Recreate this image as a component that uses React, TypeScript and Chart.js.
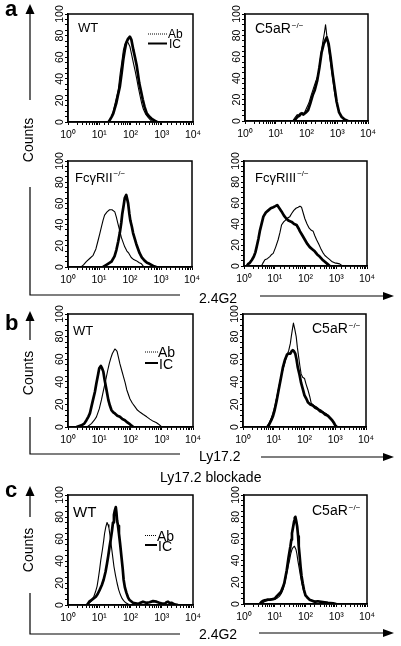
import React, { useEffect, useRef } from 'react';
import { Chart, registerables } from 'chart.js';

Chart.register(...registerables);

type Pt = [number, number]; // [log10 fluorescence intensity, counts]

const xTickLabels = ['10⁰', '10¹', '10²', '10³', '10⁴'];
const yTickLabels = [0, 20, 40, 60, 80, 100];

// ---- Panel a : 2.4G2 staining ----
const aWT_Ab: Pt[] = [[1.29,0],[1.38,4],[1.45,10],[1.53,20],[1.61,30],[1.67,45],[1.72,55],[1.77,66],[1.82,72],[1.88,75],[1.93,73],[1.98,70],[2.04,62],[2.09,55],[2.15,47],[2.2,40],[2.25,32],[2.3,25],[2.36,17],[2.41,12],[2.49,7],[2.57,4],[2.65,1.5],[2.73,0]];
const aWT_IC: Pt[] = [[1.3,0],[1.34,2],[1.4,5],[1.45,8],[1.55,18],[1.6,25],[1.66,33],[1.72,46],[1.77,58],[1.82,67],[1.86,73],[1.92,77],[1.98,79],[2.03,76],[2.09,67],[2.15,59],[2.2,52],[2.24,44],[2.28,36],[2.34,28],[2.39,21],[2.45,14],[2.52,8],[2.6,5],[2.68,3],[2.76,1.5],[2.85,0]];
const aC5_Ab: Pt[] = [[1.55,0],[1.62,3],[1.7,6],[1.78,4],[1.85,8],[1.92,7],[2.0,12],[2.08,17],[2.15,24],[2.22,30],[2.3,37],[2.38,43],[2.45,58],[2.52,72],[2.58,82],[2.62,90],[2.66,80],[2.72,68],[2.78,55],[2.85,40],[2.92,25],[3.0,14],[3.08,7],[3.16,3],[3.25,1],[3.35,0]];
const aC5_IC: Pt[] = [[1.6,0],[1.68,3],[1.75,5],[1.82,7],[1.9,6],[1.98,8],[2.05,10],[2.12,16],[2.2,24],[2.27,29],[2.35,38],[2.42,50],[2.49,64],[2.56,72],[2.62,76],[2.66,78],[2.72,72],[2.78,60],[2.85,44],[2.92,30],[2.98,18],[3.06,8],[3.14,4],[3.24,1.5],[3.35,0]];
const aR2_Ab: Pt[] = [[0.42,0],[0.5,2],[0.59,5],[0.7,8],[0.81,11],[0.9,17],[0.97,25],[1.03,32],[1.08,38],[1.13,44],[1.18,49],[1.26,52],[1.34,54],[1.42,54],[1.51,52],[1.56,47],[1.61,41],[1.67,34],[1.72,28],[1.78,23],[1.83,19],[1.9,15],[1.96,13],[2.04,9],[2.12,7],[2.2,6],[2.3,4],[2.37,3],[2.45,0]];
const aR2_IC: Pt[] = [[1.13,0],[1.24,2],[1.4,5],[1.5,10],[1.56,16],[1.62,24],[1.67,32],[1.72,42],[1.75,50],[1.8,59],[1.83,65],[1.88,68],[1.91,64],[1.94,60],[1.98,50],[2.01,44],[2.06,38],[2.1,32],[2.15,27],[2.2,22],[2.26,17],[2.31,13],[2.38,9],[2.47,6],[2.55,4],[2.63,3],[2.75,1],[2.85,0]];
const aR3_Ab: Pt[] = [[0.57,0],[0.62,3],[0.68,6],[0.76,7],[0.84,9],[0.9,11],[0.95,12],[1.03,18],[1.11,25],[1.17,32],[1.22,39],[1.29,42],[1.36,44],[1.43,46],[1.49,47],[1.55,50],[1.62,53],[1.69,55],[1.76,56],[1.82,57],[1.87,56],[1.93,50],[1.98,45],[2.05,40],[2.12,36],[2.19,34],[2.25,33],[2.3,29],[2.36,25],[2.43,21],[2.49,17],[2.56,13],[2.63,10],[2.71,8],[2.79,6],[2.87,4],[2.95,3],[3.04,2.5],[3.11,2],[3.2,0]];
const aR3_IC: Pt[] = [[0.09,0],[0.14,2],[0.19,3],[0.26,6],[0.32,9],[0.37,13],[0.41,18],[0.47,26],[0.52,34],[0.58,41],[0.63,47],[0.71,51],[0.79,53],[0.87,55],[0.95,56],[1.02,57],[1.08,58],[1.15,55],[1.22,52],[1.3,48],[1.38,45],[1.46,43],[1.55,42],[1.63,40],[1.71,39],[1.77,36],[1.82,33],[1.9,29],[1.98,25],[2.06,21],[2.14,18],[2.22,16],[2.3,14],[2.38,11],[2.46,9],[2.55,6],[2.63,4],[2.71,2],[2.79,0]];

// ---- Panel b : Ly17.2 staining ----
const bWT_Ab: Pt[] = [[0.61,0],[0.75,3],[0.84,6],[0.91,9],[1.0,16],[1.07,24],[1.14,33],[1.21,42],[1.27,50],[1.32,56],[1.37,61],[1.42,65],[1.46,67],[1.5,69],[1.54,68],[1.57,67],[1.62,61],[1.66,56],[1.72,50],[1.77,45],[1.83,39],[1.88,33],[1.93,29],[1.98,25],[2.06,21],[2.14,18],[2.22,15],[2.31,13],[2.41,11],[2.52,9],[2.62,7],[2.73,5],[2.82,4],[2.9,2.5],[3.0,0]];
const bWT_IC: Pt[] = [[0.27,0],[0.43,1.5],[0.52,3],[0.59,6],[0.65,9],[0.7,12],[0.75,18],[0.8,24],[0.86,31],[0.91,39],[0.96,46],[1.0,52],[1.05,54],[1.09,52],[1.13,49],[1.17,42],[1.21,36],[1.25,30],[1.29,24],[1.34,19],[1.39,15],[1.45,13],[1.5,12],[1.58,10],[1.66,9],[1.74,7],[1.82,6],[1.9,4],[1.98,2.5],[2.09,0]];
const bC5_Ab: Pt[] = [[0.76,0],[0.86,4],[0.92,8],[0.97,12],[1.04,19],[1.1,27],[1.17,36],[1.24,45],[1.31,52],[1.38,59],[1.44,64],[1.49,68],[1.54,74],[1.57,80],[1.61,87],[1.64,92],[1.68,87],[1.73,80],[1.77,70],[1.81,62],[1.85,54],[1.89,47],[1.94,44],[2.0,43],[2.05,38],[2.11,33],[2.17,27],[2.22,21],[2.3,19],[2.38,18],[2.46,16],[2.54,15],[2.62,13],[2.7,12],[2.78,10],[2.86,7],[2.93,4],[3.0,1.5],[3.05,0]];
const bC5_IC: Pt[] = [[0.81,0],[0.92,6],[0.98,10],[1.03,15],[1.1,24],[1.16,33],[1.23,43],[1.3,53],[1.36,59],[1.43,64],[1.48,65],[1.54,65],[1.58,67],[1.62,68],[1.66,67],[1.7,65],[1.74,60],[1.78,53],[1.84,46],[1.89,39],[1.95,33],[2.0,28],[2.06,25],[2.11,22],[2.19,20],[2.27,19],[2.35,17],[2.43,16],[2.51,14],[2.59,13],[2.67,11],[2.76,10],[2.83,8],[2.9,6],[2.95,4],[3.0,1.5],[3.05,0]];

// ---- Panel c : Ly17.2 blockade, 2.4G2 staining ----
const cWT_Ab: Pt[] = [[0.57,0],[0.69,2],[0.76,4],[0.83,8],[0.88,12],[0.93,17],[0.97,24],[1.01,32],[1.05,41],[1.1,50],[1.14,58],[1.17,65],[1.21,71],[1.25,75],[1.28,73],[1.31,70],[1.35,62],[1.39,53],[1.43,44],[1.47,35],[1.52,27],[1.57,20],[1.62,14],[1.68,9],[1.73,6],[1.78,4],[1.85,2],[1.92,1],[2.0,0]];
const cWT_IC: Pt[] = [[0.61,0],[0.68,3],[0.75,4.5],[0.82,6],[0.89,7.5],[0.95,10],[1.01,13.5],[1.08,18],[1.14,23],[1.2,30],[1.25,38],[1.29,45],[1.33,53],[1.37,60],[1.41,68],[1.44,75],[1.47,82],[1.5,86],[1.53,89],[1.55,84],[1.57,77],[1.6,72],[1.63,65],[1.67,55],[1.71,44],[1.75,33],[1.78,23],[1.82,16],[1.87,11],[1.92,7],[1.97,4.5],[2.08,2],[2.24,1],[2.32,2],[2.4,3],[2.5,2],[2.61,2.5],[2.72,3.5],[2.83,3],[2.92,2],[2.99,1.5],[3.09,1],[3.15,2.5],[3.2,3],[3.26,1.5],[3.31,2],[3.41,0.5],[3.52,0]];
const cC5_Ab: Pt[] = [[0.55,0],[0.66,2],[0.74,3],[0.82,3.5],[0.9,4],[0.98,4],[1.06,5],[1.15,7],[1.22,10],[1.28,14],[1.34,21],[1.39,28],[1.44,35],[1.48,40],[1.52,46],[1.56,50],[1.6,52],[1.64,53],[1.69,50],[1.72,46],[1.75,40],[1.8,32],[1.84,25],[1.88,19],[1.93,13],[1.98,9],[2.04,6],[2.14,4],[2.24,3],[2.4,2.5],[2.57,2],[2.7,1.5],[2.84,0.6],[2.95,0]];
const cC5_IC: Pt[] = [[0.51,0],[0.57,2],[0.62,3],[0.7,3.5],[0.77,4],[0.85,4],[0.93,4.5],[1.0,5],[1.06,7],[1.13,9],[1.2,11],[1.26,15],[1.31,19],[1.35,25],[1.39,31],[1.42,37],[1.45,43],[1.48,48],[1.51,53],[1.54,59],[1.56,65],[1.6,71],[1.63,76],[1.65,79],[1.67,80],[1.7,76],[1.73,71],[1.76,62],[1.78,53],[1.81,44],[1.84,34],[1.87,26],[1.91,19],[1.95,13],[2.0,8],[2.06,6],[2.13,4],[2.22,3],[2.3,2],[2.4,2.5],[2.51,2],[2.62,1.5],[2.73,1],[2.9,0.6],[3.0,0]];

const FONT = '"Liberation Sans", Arial, Helvetica, sans-serif';
const YW = 24;
const XH = 26;
const PT = 12;
const PR = 14;

const framePlugin = {
  id: 'frame',
  afterDatasetsDraw(chart: any) {
    const { ctx, chartArea: a } = chart;
    ctx.save();
    ctx.strokeStyle = '#000';
    ctx.lineWidth = 1.5;
    ctx.strokeRect(a.left, a.top, a.right - a.left, a.bottom - a.top);
    ctx.restore();
  },
};

function toXY(pts: Pt[]) {
  return pts.map(([e, c]) => ({ x: Math.pow(10, e), y: c }));
}

type HistProps = { l: number; t: number; r: number; b: number; ab: Pt[]; ic: Pt[] };

function Histogram({ l, t, r, b, ab, ic }: HistProps) {
  const ref = useRef<HTMLCanvasElement>(null);
  const w = r - l + YW + PR;
  const h = b - t + PT + XH;
  useEffect(() => {
    const chart = new Chart(ref.current as HTMLCanvasElement, {
      type: 'line',
      data: {
        datasets: [
          { label: 'Ab', data: toXY(ab), borderColor: '#000', borderWidth: 1.1, pointRadius: 0, tension: 0, fill: false, borderJoinStyle: 'round' },
          { label: 'IC', data: toXY(ic), borderColor: '#000', borderWidth: 2.7, pointRadius: 0, tension: 0, fill: false, borderJoinStyle: 'round' },
        ],
      } as any,
      options: {
        responsive: false,
        animation: false,
        devicePixelRatio: 1,
        events: [],
        layout: { padding: { left: 0, top: PT, right: PR, bottom: 0 } },
        plugins: { legend: { display: false }, tooltip: { enabled: false } },
        scales: {
          x: {
            type: 'logarithmic',
            min: 1,
            max: 10000,
            afterFit: (s: any) => { s.height = XH; },
            ticks: {
              autoSkip: false,
              minRotation: 0,
              maxRotation: 0,
              padding: 4,
              color: '#000',
              font: { family: FONT, size: 10.5 },
              callback: (v: any) => {
                const e = Math.log10(Number(v));
                const k = Math.round(e);
                return Math.abs(e - k) < 1e-9 ? (xTickLabels[k] ?? '') : '';
              },
            },
            grid: { drawOnChartArea: false, tickLength: 3, tickColor: '#000', tickWidth: 1 },
            border: { color: '#000', width: 1.5 },
          },
          y: {
            type: 'linear',
            min: 0,
            max: 100,
            afterFit: (s: any) => { s.width = YW; },
            ticks: {
              stepSize: 5,
              autoSkip: false,
              minRotation: 90,
              maxRotation: 90,
              crossAlign: 'center',
              padding: -4,
              color: '#000',
              font: { family: FONT, size: 10.5 },
              callback: (v: any) => (yTickLabels.includes(Number(v)) ? String(v) : ''),
            },
            grid: { drawOnChartArea: false, tickLength: 3, tickColor: '#000', tickWidth: 1 },
            border: { color: '#000', width: 1.5 },
          },
        },
      } as any,
      plugins: [framePlugin],
    });
    return () => chart.destroy();
  }, []);
  return (
    <canvas
      ref={ref}
      width={w}
      height={h}
      style={{ position: 'absolute', left: l - YW, top: t - PT, width: w, height: h }}
    />
  );
}

function Txt({ x, base, size, bold, children }: { x: number; base: number; size: number; bold?: boolean; children: React.ReactNode }) {
  return (
    <div
      style={{
        position: 'absolute',
        left: x,
        top: base - 0.8465 * size,
        fontSize: size,
        lineHeight: 1,
        fontWeight: bold ? 'bold' : 'normal',
        whiteSpace: 'nowrap',
      }}
    >
      {children}
    </div>
  );
}

function Sup({ children }: { children: React.ReactNode }) {
  return (
    <span style={{ fontSize: 8, position: 'relative', top: -5.5, lineHeight: 0, marginLeft: 1 }}>{children}</span>
  );
}

function VText({ x, y, size, children }: { x: number; y: number; size: number; children: React.ReactNode }) {
  return (
    <div
      style={{
        position: 'absolute',
        left: x,
        top: y,
        fontSize: size,
        lineHeight: 1,
        whiteSpace: 'nowrap',
        transform: 'translate(-50%, -50%) rotate(-90deg)',
      }}
    >
      {children}
    </div>
  );
}

function Legend({ x, y1, y2, len, textX, size }: { x: number; y1: number; y2: number; len: number; textX: number; size: number }) {
  return (
    <>
      <svg style={{ position: 'absolute', left: 0, top: 0 }} width={401} height={646}>
        <line x1={x} y1={y1} x2={x + len} y2={y1} stroke="#000" strokeWidth={1} strokeDasharray="1 1" />
        <line x1={x} y1={y2} x2={x + len} y2={y2} stroke="#000" strokeWidth={2} />
      </svg>
      <Txt x={textX} base={y1 + 0.36 * size} size={size}>Ab</Txt>
      <Txt x={textX + 1} base={y2 + 0.36 * size + 0.5} size={size}>IC</Txt>
    </>
  );
}

function Decor() {
  const s = { stroke: '#000', strokeWidth: 1.2, fill: 'none' };
  const upArrow = (x: number, tip: number, end: number) => (
    <>
      <line x1={x} y1={tip + 6} x2={x} y2={end} {...s} />
      <polygon points={`${x},${tip} ${x - 4.5},${tip + 10} ${x + 4.5},${tip + 10}`} fill="#000" />
    </>
  );
  const rightArrow = (y: number, from: number, tip: number) => (
    <>
      <line x1={from} y1={y} x2={tip - 6} y2={y} {...s} />
      <polygon points={`${tip},${y} ${tip - 11},${y - 4} ${tip - 11},${y + 4}`} fill="#000" />
    </>
  );
  const ell = (top: number, yb: number) => (
    <polyline points={`30,${top} 30,${yb} 180,${yb}`} {...s} />
  );
  return (
    <svg style={{ position: 'absolute', left: 0, top: 0 }} width={401} height={646}>
      {upArrow(30, 4, 100)}
      {ell(187, 295)}
      {rightArrow(296, 260, 394)}
      {upArrow(30, 311, 340)}
      {ell(417, 454)}
      {rightArrow(457, 261, 394)}
      {upArrow(30, 486, 517)}
      {ell(593, 634)}
      {rightArrow(633, 259, 394)}
    </svg>
  );
}

export default function App() {
  return (
    <div
      style={{
        position: 'absolute',
        left: 0,
        top: 0,
        width: 401,
        height: 646,
        background: '#fff',
        overflow: 'hidden',
        fontFamily: FONT,
        color: '#000',
      }}
    >
      <Histogram l={68} t={14} r={193} b={122} ab={aWT_Ab} ic={aWT_IC} />
      <Histogram l={245} t={14} r={368} b={121} ab={aC5_Ab} ic={aC5_IC} />
      <Histogram l={68} t={161} r={192} b={267} ab={aR2_Ab} ic={aR2_IC} />
      <Histogram l={244} t={161} r={367} b={266} ab={aR3_Ab} ic={aR3_IC} />
      <Histogram l={68} t={314} r={193} b={427} ab={bWT_Ab} ic={bWT_IC} />
      <Histogram l={243} t={314} r={366} b={427} ab={bC5_Ab} ic={bC5_IC} />
      <Histogram l={68} t={495} r={193} b={605} ab={cWT_Ab} ic={cWT_IC} />
      <Histogram l={244} t={495} r={367} b={604} ab={cC5_Ab} ic={cC5_IC} />

      <Decor />

      <Txt x={5} base={16.5} size={22} bold>a</Txt>
      <Txt x={5} base={331} size={22} bold>b</Txt>
      <Txt x={5} base={498} size={22} bold>c</Txt>

      <VText x={28} y={140} size={14}>Counts</VText>
      <VText x={27.5} y={373} size={14}>Counts</VText>
      <VText x={27.5} y={550} size={14}>Counts</VText>

      <Txt x={199} base={303} size={14}>2.4G2</Txt>
      <Txt x={199} base={461} size={14}>Ly17.2</Txt>
      <Txt x={160} base={482} size={14}>Ly17.2 blockade</Txt>
      <Txt x={199} base={639} size={14}>2.4G2</Txt>

      <Txt x={78} base={32} size={13}>WT</Txt>
      <Txt x={255} base={33} size={14}>C5aR<Sup>−/−</Sup></Txt>
      <Txt x={75} base={182} size={13}>FcγRII<Sup>−/−</Sup></Txt>
      <Txt x={255} base={182} size={13}>FcγRIII<Sup>−/−</Sup></Txt>
      <Txt x={73} base={335} size={13}>WT</Txt>
      <Txt x={312} base={333} size={14}>C5aR<Sup>−/−</Sup></Txt>
      <Txt x={73} base={517} size={15}>WT</Txt>
      <Txt x={312} base={515} size={14}>C5aR<Sup>−/−</Sup></Txt>

      <Legend x={148} y1={34} y2={43.5} len={19} textX={168} size={12} />
      <Legend x={145} y1={352} y2={363} len={13} textX={158} size={14} />
      <Legend x={145} y1={535.5} y2={545} len={12} textX={157} size={14} />
    </div>
  );
}
